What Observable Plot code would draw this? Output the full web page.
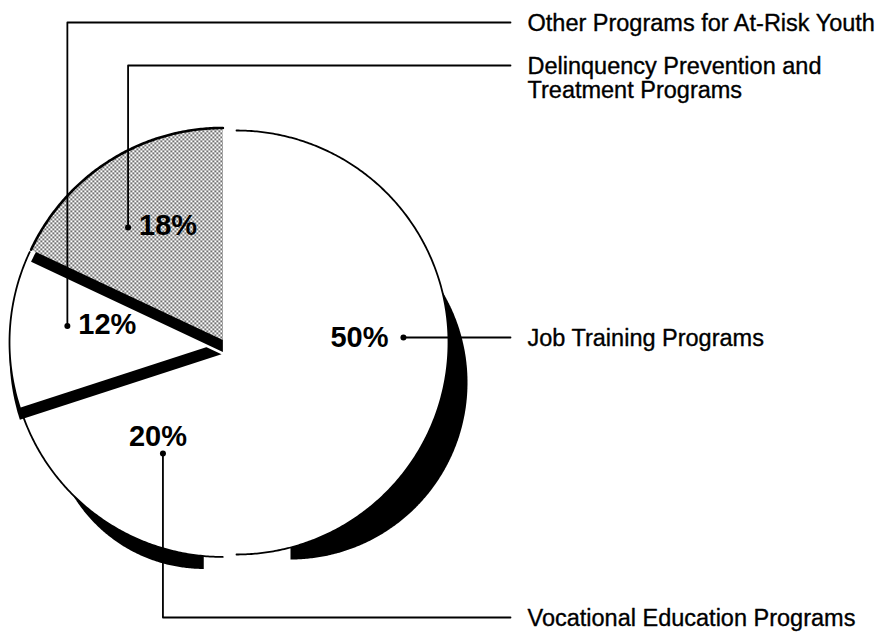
<!DOCTYPE html>
<html><head><meta charset="utf-8">
<script src="https://cdn.jsdelivr.net/npm/d3@7"></script>
<script src="https://cdn.jsdelivr.net/npm/@observablehq/plot@0.6"></script>
<style>body{margin:0;background:#fff}</style>
</head><body><div id="chart"></div>
<script>
// ---- data ----
const categories = ["Job Training Programs", "Vocational Education Programs", "Other Programs for At-Risk Youth", "Delinquency Prevention and Treatment Programs"];
const shares = [50, 20, 12, 18];
const percentLabels = ["50%", "20%", "12%", "18%"];
const legendLines = [["Job Training Programs"], ["Vocational Education Programs"], ["Other Programs for At-Risk Youth"], ["Delinquency Prevention and", "Treatment Programs"]];

// ---- layout ----
const W = 887, H = 634, CX = 224, CY = 342, R = 212;
const explode = [12, 3, 3, 3];
const shadowDX = [54, -19, 0, 0], shadowDY = [40, 71, 12, 12], shadowGrow = [-35, -59, 0, 0];
const anchorAngle = [88.4, 209, 276, 320], anchorRadius = [179, 127, 158, 150];
const legendY = [337, 617, 22, 65];
const leaderEndX = 510, legendX = 527;
const fills = ["white", "white", "white", "url(#stipple)"];
const pctDX = [-15, -5, 11, 11], pctDY = [0, -17, -1, -2], pctAnchor = ["end", "middle", "start", "start"];
const font = "Liberation Sans, Arial, Helvetica, sans-serif";

const total = d3.sum(shares);
let acc = 0;
const slices = shares.map((v, i) => {
  const a0 = acc / total * 360; acc += v; const a1 = acc / total * 360;
  return {i, a0, a1, mid: (a0 + a1) / 2};
});
const rad = d => d * Math.PI / 180;
const pt = (cx, cy, r, deg) => [cx + r * Math.sin(rad(deg)), cy - r * Math.cos(rad(deg))];
function sliceCenter(s) { return [CX + explode[s.i] * Math.sin(rad(s.mid)), CY - explode[s.i] * Math.cos(rad(s.mid))]; }
function arcPts(s, dx, dy, grow) {
  const [cx, cy] = sliceCenter(s);
  const n = Math.ceil(s.a1 - s.a0) * 2, out = [];
  for (let k = 0; k <= n; k++) out.push(pt(cx + dx, cy + dy, R + grow, s.a0 + (s.a1 - s.a0) * k / n));
  return out;
}
function sector(s, dx, dy, grow) { const [cx, cy] = sliceCenter(s); return [[cx + dx, cy + dy], ...arcPts(s, dx, dy, grow)]; }

const anchors = slices.map(s => { const p = pt(CX, CY, anchorRadius[s.i], anchorAngle[s.i]); return {i: s.i, x: p[0], y: p[1]}; });
const leaders = anchors.map(a => [[a.x, a.y], [a.x, legendY[a.i]], [leaderEndX, legendY[a.i]]]);

const defs = () => {
  const g = d3.create("svg:defs");
  const p = g.append("pattern").attr("id", "stipple").attr("patternUnits", "userSpaceOnUse").attr("width", 4).attr("height", 4);
  p.append("rect").attr("width", 4).attr("height", 4).attr("fill", "white");
  p.append("rect").attr("x", 0).attr("y", 0).attr("width", 1.6).attr("height", 1.6).attr("fill", "#222");
  p.append("rect").attr("x", 2).attr("y", 2).attr("width", 1.6).attr("height", 1.6).attr("fill", "#222");
  return g.node();
};
const X = d => d[0], Y = d => d[1];
const marks = [defs];
slices.forEach(s => {
  marks.push(Plot.line(sector(s, shadowDX[s.i], shadowDY[s.i], shadowGrow[s.i]), {x: X, y: Y, fill: "black", stroke: "none", curve: "linear-closed"}));
  marks.push(Plot.line(sector(s, 0, 0, 0), {x: X, y: Y, fill: fills[s.i], stroke: "none", curve: "linear-closed"}));
  marks.push(Plot.line(arcPts(s, 0, 0, 0), {x: X, y: Y, stroke: "black", strokeWidth: s.i === 3 ? 2.6 : 1.8}));
});
leaders.forEach(l => marks.push(Plot.line(l, {x: X, y: Y, stroke: "black", strokeWidth: 1.8})));
marks.push(Plot.dot(anchors, {x: "x", y: "y", r: 3, fill: "black", stroke: "none"}));
anchors.forEach(a => marks.push(Plot.text([a], {x: "x", y: "y", text: () => percentLabels[a.i], dx: pctDX[a.i], dy: pctDY[a.i], textAnchor: pctAnchor[a.i], fontSize: 29, fontWeight: "bold", fill: "black"})));
slices.forEach(s => marks.push(Plot.text([s], {x: () => legendX, y: () => legendY[s.i] - 8.5, text: () => legendLines[s.i].join("\n"), textAnchor: "start", lineAnchor: "top", lineHeight: 1.03, fontSize: 23.5, fill: "black", stroke: "black", strokeWidth: 0.35})));

const chart = Plot.plot({
  width: W, height: H, margin: 0,
  x: {domain: [0, W], axis: null},
  y: {domain: [H, 0], axis: null},
  style: {fontFamily: font, background: "white", overflow: "visible"},
  marks
});
document.getElementById("chart").appendChild(chart);
</script>
</body></html>
